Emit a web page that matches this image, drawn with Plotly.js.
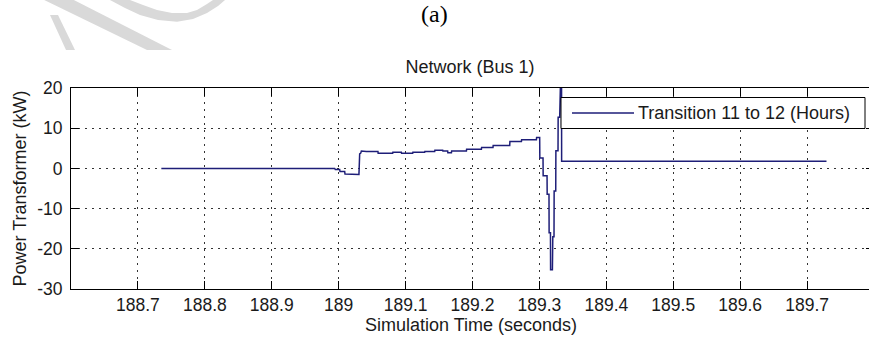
<!DOCTYPE html>
<html>
<head>
<meta charset="utf-8">
<script src="https://cdn.plot.ly/plotly-3.0.1.min.js"></script>
<style>
html, body { margin: 0; padding: 0; overflow: hidden; background: #fff; }
#chart { width: 874px; height: 338px; }
</style>
</head>
<body>
<div id="chart"></div>
<script>
// ---- data ----
const seriesName = "Transition 11 to 12 (Hours)";
const timeSec = [
  188.735, 188.994, 188.995, 189.0015, 189.002, 189.009, 189.0095, 189.0303,
  189.0314, 189.0330, 189.0339, 189.0414, 189.0587, 189.0590, 189.0807, 189.0810,
  189.0937, 189.0940, 189.1106, 189.1109, 189.1285, 189.1288, 189.1435, 189.1438,
  189.1555, 189.1558, 189.1629, 189.1632, 189.1685, 189.1688, 189.1909, 189.1912,
  189.2133, 189.2136, 189.2306, 189.2309, 189.2556, 189.2559, 189.2731, 189.2734,
  189.2955, 189.2958, 189.3004, 189.3006, 189.3054, 189.3056, 189.3114, 189.3116,
  189.3143, 189.3145, 189.3165, 189.3167, 189.3194, 189.3200, 189.3218, 189.3220,
  189.3244, 189.3246, 189.3278, 189.3280, 189.3303, 189.3305, 189.3330, 189.3332,
  189.729
];
const powerKW = [
  0, 0, -0.3, -0.3, -0.8, -0.8, -1.4, -1.5,
  3.6, 3.8, 4.3, 4.2, 4.2, 3.75, 3.75, 4.0,
  4.0, 3.75, 3.75, 4.0, 4.0, 4.2, 4.2, 4.5,
  4.5, 4.3, 4.3, 3.9, 3.9, 4.3, 4.3, 4.75,
  4.75, 5.2, 5.2, 5.7, 5.7, 6.7, 6.7, 7.1,
  7.1, 7.7, 7.7, 2.6, 2.6, -1.8, -1.8, -6.4,
  -6.4, -16, -16, -25.2, -25.2, -17, -17, -5.6,
  -5.6, 4.4, 4.4, 12.75, 12.75, 32, 32, 1.75,
  1.75
];
const xTickVals = [188.7, 188.8, 188.9, 189.0, 189.1, 189.2, 189.3, 189.4, 189.5, 189.6, 189.7];
const xTickText = ["188.7", "188.8", "188.9", "189", "189.1", "189.2", "189.3", "189.4", "189.5", "189.6", "189.7"];
const yTickVals = [-30, -20, -10, 0, 10, 20];
const yTickText = ["-30", "-20", "-10", "0", "10", "20"];

// ---- layout geometry ----
const W = 874, H = 338, L = 71, T = 88, PW = 803, PH = 201;
const px = v => (v - L) / PW;          // pixel x -> paper x
const py = v => (T + PH - v) / PH;      // pixel y -> paper y
const poly = pts => "M" + pts.map(p => px(p[0]) + "," + py(p[1])).join(" L") + " Z";

const FONT = "Liberation Sans, Arial, sans-serif";
const TXT = "#1a1a1a";
const WM = "#d9d9d9";

const trace = {
  x: timeSec, y: powerKW, type: "scatter", mode: "lines", name: seriesName,
  line: { color: "#1e1e78", width: 1.5 }, showlegend: false, hoverinfo: "skip"
};

const layout = {
  width: W, height: H,
  margin: { l: L, r: W - L - PW, t: T, b: H - T - PH, pad: 0 },
  paper_bgcolor: "#fff", plot_bgcolor: "#fff",
  font: { family: FONT, color: TXT, size: 18 },
  title: { text: "Network (Bus 1)", font: { family: FONT, size: 18, color: TXT },
           xref: "paper", x: px(470), xanchor: "center", yref: "container", y: 1 - 67 / H, yanchor: "middle" },
  xaxis: {
    range: [188.6, 189.8], tickvals: xTickVals, ticktext: xTickText,
    ticks: "inside", ticklen: 8, tickcolor: "#000", tickwidth: 1,
    showline: true, linecolor: "#000", linewidth: 1, mirror: "ticks",
    showgrid: true, gridcolor: "#333", gridwidth: 1, griddash: "2px,5px",
    zeroline: false, tickfont: { family: FONT, size: 17.5, color: TXT },
    ticklabelstandoff: 0
  },
  yaxis: {
    range: [-30, 20], tickvals: yTickVals, ticktext: yTickText,
    ticks: "inside", ticklen: 8, tickcolor: "#000", tickwidth: 1,
    showline: true, linecolor: "#000", linewidth: 1, mirror: "ticks",
    showgrid: true, gridcolor: "#333", gridwidth: 1, griddash: "2px,5px",
    zeroline: false, tickfont: { family: FONT, size: 17.5, color: TXT },
    ticklabelstandoff: 4,
    title: { text: "Power Transformer (kW)", font: { family: FONT, size: 18, color: TXT }, standoff: 5 }
  },
  shapes: [
    // watermark fragments (light grey)
    { type: "path", xref: "paper", yref: "paper", layer: "below", line: { width: 0 }, fillcolor: WM,
      path: poly([[36, -4], [66, -4], [172, 50], [147, 50]]) },
    { type: "path", xref: "paper", yref: "paper", layer: "below", line: { width: 0 }, fillcolor: WM,
      path: poly([[50, 15], [58, 15], [75, 50], [66, 50]]) },
    { type: "path", xref: "paper", yref: "paper", layer: "below", line: { width: 0 }, fillcolor: WM,
      path: poly([[108, -4], [110, 0], [125, 8], [140, 15], [158, 20], [177, 21.7], [193, 19], [207, 13], [218, 6], [225, 0], [227, -4],
                  [214, -4], [213, 0], [207, 4], [197, 10], [187, 13], [172, 13], [157, 10], [143, 5], [130, 0], [128, -4]]) },
    // legend box
    { type: "rect", xref: "paper", yref: "paper", layer: "above",
      x0: px(561), x1: px(865), y0: py(128.5), y1: py(97.5),
      fillcolor: "#fff", line: { color: "#000", width: 1 } },
    { type: "line", xref: "paper", yref: "paper", layer: "above",
      x0: px(572), x1: px(634), y0: py(113), y1: py(113),
      line: { color: "#1e1e78", width: 1.5 } }
  ],
  annotations: [
    { text: "(a)", xref: "paper", yref: "paper", x: px(434), y: py(14), xanchor: "center", yanchor: "middle",
      showarrow: false, font: { family: "Liberation Serif, Times New Roman, serif", size: 24, color: "#000" } },
    { text: seriesName, xref: "paper", yref: "paper", x: px(636), y: py(113), xanchor: "left", yanchor: "middle",
      showarrow: false, font: { family: FONT, size: 18, color: TXT } },
    { text: "Simulation Time (seconds)", xref: "paper", yref: "paper", x: px(471), y: py(325), xanchor: "center", yanchor: "middle",
      showarrow: false, font: { family: FONT, size: 18, color: TXT } }
  ]
};

Plotly.newPlot("chart", [trace], layout, { staticPlot: true, displayModeBar: false });
</script>
</body>
</html>
